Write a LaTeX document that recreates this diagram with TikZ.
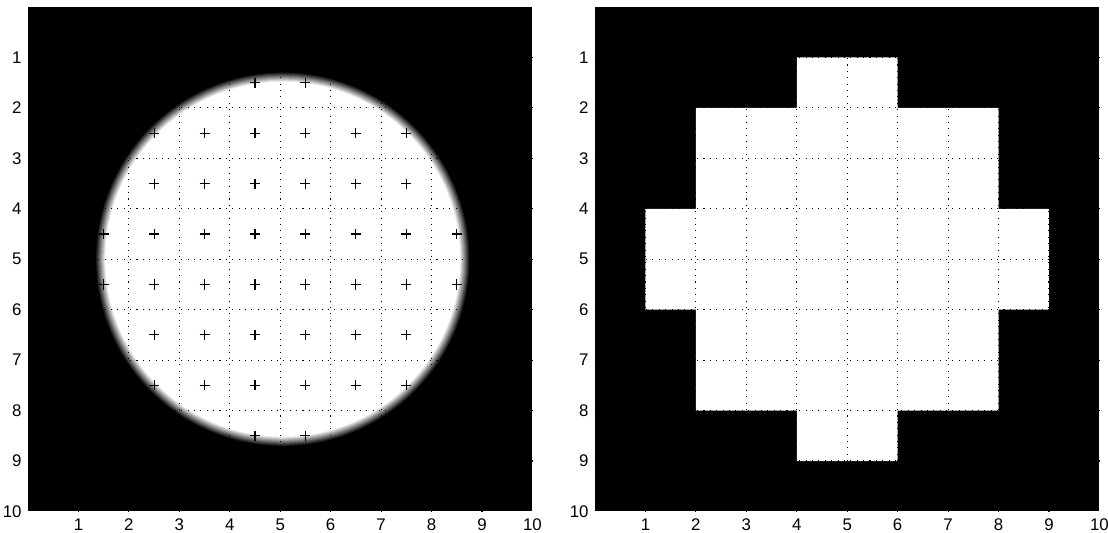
\documentclass[tikz,border=0pt]{standalone}
\usepackage{fontspec}
\setmainfont{Liberation Sans}
\usepackage{tikz}
\usetikzlibrary{positioning, calc}
\tikzset{
  axbox/.style={fill=black},
  gridline/.style={black, line width=0.6pt, dash pattern=on 0.6pt off 3pt},
  ticklabel/.style={font=\fontsize{9.5}{11}\selectfont, inner sep=0pt},
  cross/.style={black, line width=0.6pt},
}

\begin{document}
\begin{tikzpicture}
\useasboundingbox (-0.555,0.139) rectangle (21.41,-10.426);

% left panel: blurred disk
\begin{scope}[yscale=-1]
  \fill[axbox] (0,0) rectangle (10,10);
  \foreach \k in {0,...,9} {
    \pgfmathsetmacro{\r}{3.70-0.02*\k}
    \pgfmathsetmacro{\w}{10*\k+10}
    \fill[white!\w!black] (5.05,5) circle (\r);
  }
  \foreach \g in {1,...,9} {
    \draw[gridline] (\g,0) -- (\g,10);
    \draw[gridline] (0,\g) -- (10,\g);
  }
  \foreach \yy/\xa/\xb in {1.5/4.5/5.5, 2.5/2.5/7.5, 3.5/2.5/7.5, 4.5/1.5/8.5,
                          5.5/1.5/8.5, 6.5/2.5/7.5, 7.5/2.5/7.5, 8.5/4.5/5.5}
    \foreach \xx in {\xa,...,\xb}
      \draw[cross] (\xx-0.1,\yy) -- (\xx+0.1,\yy) (\xx,\yy-0.1) -- (\xx,\yy+0.1);
  \foreach \n in {1,...,10} {
    \node[ticklabel, anchor=east] (ly\n) at (-0.12,\n) {\n};
    \node[ticklabel] (lx\n) at (\n,10.27) {\n};
  }
\end{scope}

% right panel: binary mask
\begin{scope}[yscale=-1, xshift=11.24cm]
  \fill[axbox] (0,0) rectangle (10,10);
  \fill[white] (4,1) -- (6,1) -- (6,2) -- (8,2) -- (8,4) -- (9,4) -- (9,6) -- (8,6)
    -- (8,8) -- (6,8) -- (6,9) -- (4,9) -- (4,8) -- (2,8) -- (2,6) -- (1,6)
    -- (1,4) -- (2,4) -- (2,2) -- (4,2) -- cycle;
  \foreach \g in {1,...,9} {
    \draw[gridline] (\g,0) -- (\g,10);
    \draw[gridline] (0,\g) -- (10,\g);
  }
  \foreach \n in {1,...,10} {
    \node[ticklabel, anchor=east] (ry\n) at (-0.12,\n) {\n};
    \node[ticklabel] (rx\n) at (\n,10.27) {\n};
  }
\end{scope}

\end{tikzpicture}
\end{document}
